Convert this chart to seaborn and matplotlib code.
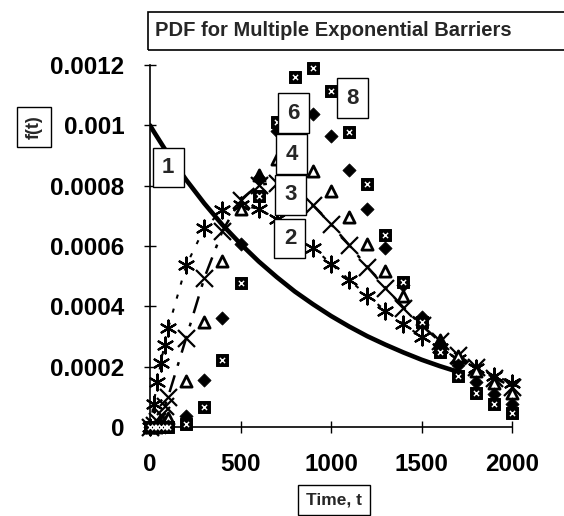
#PDF for multiple exponential barriers, redrawn from a scanned figure
import numpy as np
import pandas as pd
import seaborn as sns
import matplotlib.pyplot as plt
from matplotlib.patches import Rectangle

# time points (same grid for every series)
t = [0, 20, 40, 60, 80, 100, 200, 300, 400, 500, 600, 700, 800, 900, 1000,
     1100, 1200, 1300, 1400, 1500, 1600, 1700, 1800, 1900, 2000]

# values, in units of 1e-4
n1 = [10.0, 9.80, 9.61, 9.42, 9.23, 9.05, 8.19, 7.41, 6.70, 6.07, 5.49, 4.97,
      4.49, 4.07, 3.68, 3.33, 3.01, 2.73, 2.47, 2.23, 2.02, 1.83]
n2 = [0.0, 0.77, 1.48, 2.13, 2.73, 3.27, 5.36, 6.59, 7.19, 7.36, 7.23, 6.90,
      6.46, 5.95, 5.41, 4.88, 4.35, 3.86, 3.41, 2.99, 2.61, 2.27, 1.97, 1.70, 1.47]
n3 = [0.0, 0.05, 0.19, 0.41, 0.68, 1.00, 2.96, 4.94, 6.50, 7.53, 8.03, 8.10,
      7.84, 7.35, 6.72, 6.03, 5.31, 4.62, 3.96, 3.37, 2.84, 2.38, 1.98, 1.63, 1.34]
n4 = [0.0, 0.0, 0.02, 0.07, 0.16, 0.29, 1.53, 3.47, 5.51, 7.22, 8.36, 8.90,
      8.91, 8.49, 7.81, 6.97, 6.07, 5.17, 4.33, 3.57, 2.90, 2.34, 1.86, 1.46, 1.14]
n6 = [0.0, 0.0, 0.0, 0.0, 0.01, 0.02, 0.38, 1.56, 3.61, 6.05, 8.26, 9.80,
      10.49, 10.37, 9.64, 8.52, 7.23, 5.92, 4.71, 3.64, 2.76, 2.05, 1.50, 1.08, 0.76]
n8 = [0.0, 0.0, 0.0, 0.0, 0.0, 0.0, 0.09, 0.66, 2.22, 4.76, 7.67, 10.11,
      11.59, 11.89, 11.15, 9.79, 8.07, 6.35, 4.81, 3.49, 2.47, 1.69, 1.14, 0.75, 0.48]

series = {'1': n1, '2': n2, '3': n3, '4': n4, '6': n6, '8': n8}
frames = []
for name, vals in series.items():
    frames.append(pd.DataFrame({'t': t[:len(vals)], 'f': np.array(vals) * 1e-4, 'n': name}))
df = pd.concat(frames, ignore_index=True)

# label boxes (t, f) for each curve
label_pos = {'1': (100, 0.000860), '2': (773, 0.000625), '3': (778, 0.000770),
             '4': (783, 0.000905), '6': (790, 0.00104), '8': (1116, 0.00109)}

sns.set_theme(style='white')
plt.rcParams['font.family'] = ['Liberation Sans', 'DejaVu Sans']
plt.rcParams['font.weight'] = 'bold'

fig = plt.figure(figsize=(5.64, 5.16), dpi=100)
ax = fig.add_axes([0.266, 0.1725, 0.642, 0.7015])

# n = 1 : solid heavy line
sns.lineplot(data=df[df.n == '1'], x='t', y='f', color='black', lw=3.3, ax=ax)
# n = 2, 3 : light connecting lines
sns.lineplot(data=df[df.n == '2'], x='t', y='f', color='black', lw=1.5, ax=ax)
ax.lines[-1].set_linestyle((0, (2, 5)))
sns.lineplot(data=df[df.n == '3'], x='t', y='f', color='black', lw=1.8, ax=ax)
ax.lines[-1].set_linestyle((0, (7, 4, 1.5, 4)))

kw = dict(x='t', y='f', color='black', ax=ax, legend=False, clip_on=False, zorder=3)
sns.scatterplot(data=df[df.n == '2'], marker=(6, 2, 0), s=130, linewidth=1.6, **kw)
sns.scatterplot(data=df[df.n == '3'], marker='x', s=150, linewidth=1.6, **kw)
sns.scatterplot(data=df[df.n == '4'], marker='^', s=65, facecolor='white',
                edgecolor='black', linewidth=2.0, x='t', y='f', ax=ax,
                legend=False, clip_on=False, zorder=3)
sns.scatterplot(data=df[df.n == '6'], marker='D', s=45, edgecolor='black', **kw)
sns.scatterplot(data=df[df.n == '8'], marker='s', s=75, edgecolor='black', **kw)
sns.scatterplot(data=df[df.n == '8'], marker='x', s=14, linewidth=1.0, x='t', y='f',
                color='white', ax=ax, legend=False, clip_on=False, zorder=4)

for name, (lx, ly) in label_pos.items():
    ax.text(lx, ly, name, ha='center', va='center', fontsize=16, fontweight='bold',
            zorder=6, bbox=dict(boxstyle='square,pad=0.42', fc='white', ec='black', lw=1))

ax.set_xlim(0, 2000)
ax.set_ylim(0, 0.0012)
ax.set_xticks([0, 500, 1000, 1500, 2000])
ax.set_xticklabels(['0', '500', '1000', '1500', '2000'])
ax.set_yticks([0, 0.0002, 0.0004, 0.0006, 0.0008, 0.001, 0.0012])
ax.set_yticklabels(['0', '0.0002', '0.0004', '0.0006', '0.0008', '0.001', '0.0012'])
ax.tick_params(direction='inout', length=9, width=1, colors='black', pad=14,
               labelsize=17.5, left=True, bottom=True)
for lbl in ax.get_xticklabels() + ax.get_yticklabels():
    lbl.set_fontweight('bold')
ax.set_xlabel('')
ax.set_ylabel('')
sns.despine(ax=ax)
for sp in ['left', 'bottom']:
    ax.spines[sp].set_color('black')
    ax.spines[sp].set_linewidth(1.2)

# title box, cut off at the right edge like the scan
fig.patches.append(Rectangle((0.262, 0.903), 0.8, 0.0736, transform=fig.transFigure,
                             fill=False, ec='black', lw=1.2))
fig.text(0.275, 0.940, 'PDF for Multiple Exponential Barriers', fontsize=14.5,
         fontweight='bold', va='center', ha='left')

fig.text(34 / 564, 1 - 127 / 516, 'f(t)', rotation=90, fontsize=13, fontweight='bold',
         ha='center', va='center',
         bbox=dict(boxstyle='square,pad=0.45', fc='white', ec='black', lw=1))
fig.text(0.592, 0.031, 'Time, t', fontsize=12.5, fontweight='bold', ha='center', va='center',
         bbox=dict(boxstyle='square,pad=0.45', fc='white', ec='black', lw=1))

fig.savefig('out.png', dpi=100, facecolor='white')
